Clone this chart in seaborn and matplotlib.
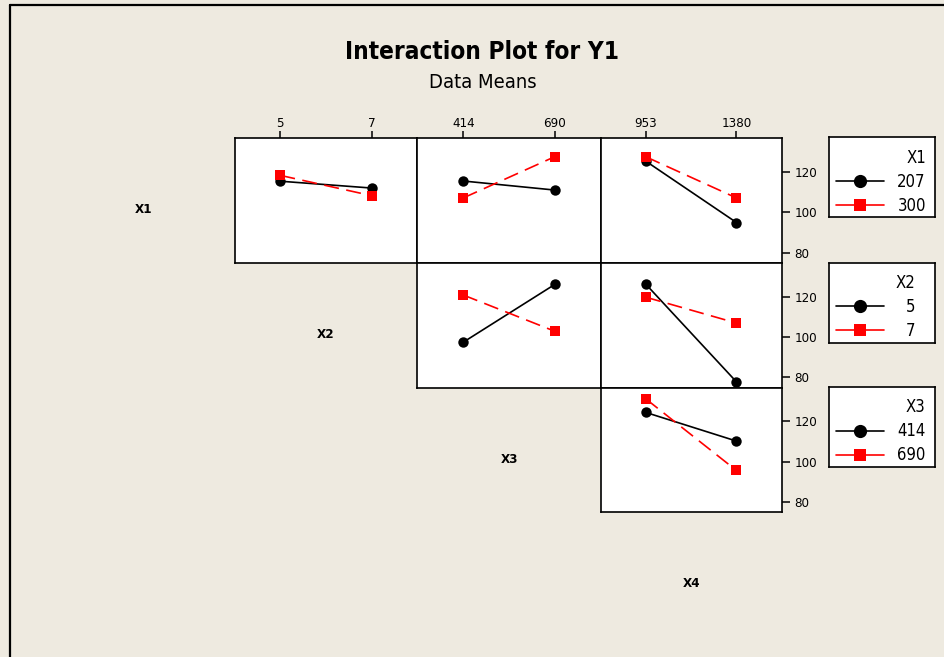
import matplotlib
matplotlib.use("Agg")
import matplotlib.pyplot as plt
from matplotlib.lines import Line2D
from matplotlib import font_manager
import pandas as pd
import seaborn as sns

sns.set_theme(style="white")

# Prefer a narrow sans face when one is installed
_names = {f.name for f in font_manager.fontManager.ttflist}
_stretch = {(f.name, f.stretch) for f in font_manager.fontManager.ttflist}
narrow = [n for n in ["Liberation Sans Narrow", "DejaVu Sans Condensed"] if n in _names]
plt.rcParams["font.family"] = narrow + ["DejaVu Sans"]
condensed_dejavu = any(n == "DejaVu Sans" and s in ("condensed", "semi-condensed") for n, s in _stretch)
if not narrow and condensed_dejavu:
    plt.rcParams["font.stretch"] = "condensed"
for key in ["text.color", "xtick.color", "ytick.color", "axes.labelcolor"]:
    plt.rcParams[key] = "black"

# Factor names and their two levels
factor_names = ["X1", "X2", "X3", "X4"]
x1_levels = ["207", "300"]
x2_levels = ["5", "7"]
x3_levels = ["414", "690"]
x4_levels = ["953", "1380"]

# Mean of Y1 for each trace level across the x-factor levels
x1_207_over_x2 = [115.4, 112.0]
x1_300_over_x2 = [118.3, 108.2]
x1_207_over_x3 = [115.5, 111.0]
x1_300_over_x3 = [107.1, 127.6]
x1_207_over_x4 = [125.3, 94.9]
x1_300_over_x4 = [127.5, 107.1]
x2_5_over_x3 = [97.4, 126.1]
x2_7_over_x3 = [120.8, 102.8]
x2_5_over_x4 = [126.1, 77.7]
x2_7_over_x4 = [119.7, 106.9]
x3_414_over_x4 = [124.4, 110.2]
x3_690_over_x4 = [131.1, 95.6]

y_ticks = [80, 100, 120]

levels = {"X1": x1_levels, "X2": x2_levels, "X3": x3_levels, "X4": x4_levels}

# (row, col, trace factor, x factor, means of low level, means of high level)
panels = [
    (0, 1, "X1", "X2", x1_207_over_x2, x1_300_over_x2),
    (0, 2, "X1", "X3", x1_207_over_x3, x1_300_over_x3),
    (0, 3, "X1", "X4", x1_207_over_x4, x1_300_over_x4),
    (1, 2, "X2", "X3", x2_5_over_x3, x2_7_over_x3),
    (1, 3, "X2", "X4", x2_5_over_x4, x2_7_over_x4),
    (2, 3, "X3", "X4", x3_414_over_x4, x3_690_over_x4),
]

W, H = 945, 657
BG = "#EEEAE0"
fig = plt.figure(figsize=(W / 100, H / 100), dpi=100, facecolor=BG)


def fx(px):
    return px / W


def fy(py):
    return 1 - py / H


def rect(x0, y0, x1, y1):
    return [fx(x0), fy(y1), fx(x1) - fx(x0), fy(y0) - fy(y1)]


col_edges = [52.0, 234.6, 417.5, 600.7, 781.7]
row_edges = [138.3, 263.0, 387.7, 512.4, 637.1]
ylim = (74.8, 136.7)

palette = ["black", "red"]
marker_map = ["o", "s"]
dash_map = ["", (9, 4.5)]
spine_lw = 1.2

for r, c, trace, xf, low, high in panels:
    ax = fig.add_axes(rect(col_edges[c], row_edges[r], col_edges[c + 1], row_edges[r + 1]))
    lv = levels[trace]
    df = pd.DataFrame({
        "pos": [0, 1, 0, 1],
        "trace": [lv[0], lv[0], lv[1], lv[1]],
        "mean": list(low) + list(high),
    })
    sns.lineplot(
        data=df, x="pos", y="mean", hue="trace", style="trace",
        hue_order=lv, style_order=lv,
        palette=dict(zip(lv, palette)),
        markers=dict(zip(lv, marker_map)),
        dashes=dict(zip(lv, dash_map)),
        markersize=7.5, markeredgewidth=0, linewidth=1.2,
        legend=False, ax=ax,
    )
    ax.set_facecolor("white")
    ax.set_xlim(-0.5, 1.5)
    ax.set_ylim(*ylim)
    ax.set_xlabel("")
    ax.set_ylabel("")
    for s in ax.spines.values():
        s.set_visible(True)
        s.set_color("black")
        s.set_linewidth(spine_lw)
    if r == 0:
        ax.xaxis.tick_top()
        ax.set_xticks([0, 1])
        ax.set_xticklabels(levels[xf])
        ax.tick_params(axis="x", which="both", top=True, bottom=False, length=5,
                       width=1.1, color="black", labelcolor="black",
                       labelsize=9.5, pad=1.0, direction="out")
    else:
        ax.set_xticks([])
    if c == 3:
        ax.yaxis.tick_right()
        ax.set_yticks(y_ticks)
        ax.tick_params(axis="y", which="both", right=True, left=False, length=6,
                       width=1.1, color="black", labelcolor="black",
                       labelsize=9.5, pad=3, direction="out")
    else:
        ax.set_yticks([])

# Factor names on the diagonal cells
for i, name in enumerate(factor_names):
    cx = (col_edges[i] + col_edges[i + 1]) / 2
    cy = (row_edges[i] + row_edges[i + 1]) / 2 + 9
    fig.text(fx(cx), fy(cy), name, ha="center", va="center",
             fontsize=9.5, fontweight="bold", color="black")

# Legend boxes, one per trace factor
legend_tops = [137.3, 262.7, 387.3]
legend_textpad = {"X1": 0.8, "X2": 1.3, "X3": 0.8}
for i, trace in enumerate(["X1", "X2", "X3"]):
    lax = fig.add_axes(rect(829, legend_tops[i], 935, legend_tops[i] + 80))
    lax.set_facecolor("white")
    lax.set_xticks([])
    lax.set_yticks([])
    for s in lax.spines.values():
        s.set_visible(True)
        s.set_color("black")
        s.set_linewidth(spine_lw)
    handles = [
        Line2D([], [], color="black", marker="o", markersize=9.5, lw=1.2, mew=0),
        Line2D([], [], color="red", marker="s", markersize=8, lw=1.2, mew=0),
    ]
    leg = lax.legend(handles, levels[trace], title=trace, loc="upper left",
                     bbox_to_anchor=(0.066, 0.86), frameon=False, alignment="right",
                     fontsize=12, title_fontsize=12, handlelength=2.88,
                     handletextpad=legend_textpad[trace], borderaxespad=0,
                     borderpad=0, labelspacing=0.36)
    for t in leg.get_texts():
        t.set_color("black")
    leg.get_title().set_color("black")

# Titles
fig.text(0.51, fy(52), "Interaction Plot for Y1", ha="center", va="center",
         fontsize=17.5, fontweight="bold", color="black")
fig.text(0.511, fy(82), "Data Means", ha="center", va="center",
         fontsize=14.5, color="black")

# Outer frame lines (top and left)
fig.add_artist(Line2D([fx(10), fx(10)], [0, fy(4.5)], color="black", lw=1.6,
                      transform=fig.transFigure))
fig.add_artist(Line2D([fx(10), 1], [fy(4.5), fy(4.5)], color="black", lw=1.6,
                      transform=fig.transFigure))

fig.savefig("out.png", dpi=100, facecolor=BG)
